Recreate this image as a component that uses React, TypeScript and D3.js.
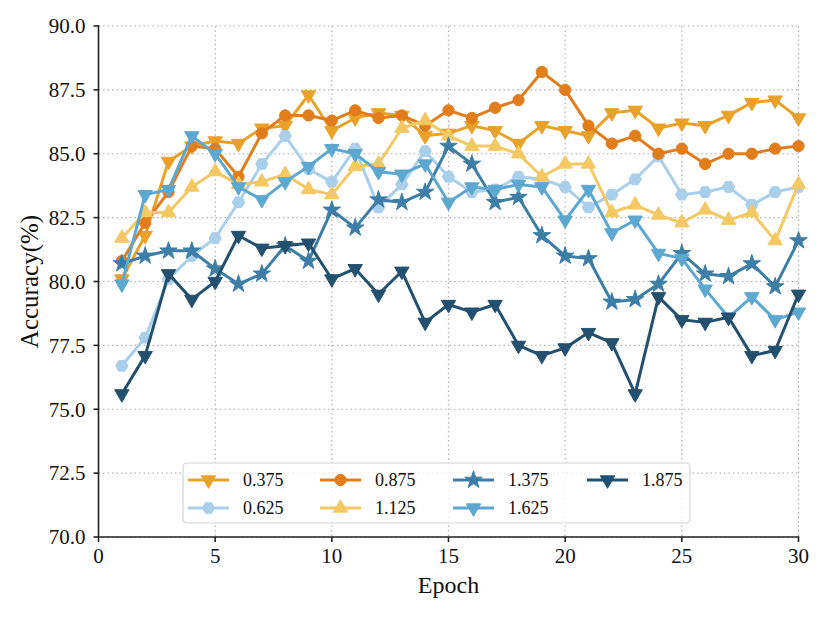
import React from 'react';
import * as d3 from 'd3';

// epochs on the x axis
const epochs = [1, 2, 3, 4, 5, 6, 7, 8, 9, 10, 11, 12, 13, 14, 15, 16, 17, 18, 19, 20, 21, 22, 23, 24, 25, 26, 27, 28, 29, 30];

const acc0375 = [80.1, 81.8, 84.7, 85.3, 85.5, 85.4, 86.0, 86.1, 87.3, 85.9, 86.4, 86.6, 86.5, 85.7, 85.8, 86.1, 85.9, 85.4, 86.1, 85.9, 85.7, 86.6, 86.7, 86.0, 86.2, 86.1, 86.5, 87.0, 87.1, 86.4];
const acc0625 = [76.7, 77.8, 80.1, 81.0, 81.7, 83.1, 84.6, 85.7, 84.4, 83.9, 85.2, 82.9, 83.8, 85.1, 84.1, 83.5, 83.6, 84.1, 84.0, 83.7, 82.9, 83.4, 84.0, 84.9, 83.4, 83.5, 83.7, 83.0, 83.5, 83.7];
const acc0875 = [80.8, 82.3, 83.5, 85.3, 85.2, 84.1, 85.8, 86.5, 86.5, 86.3, 86.7, 86.4, 86.5, 86.1, 86.7, 86.4, 86.8, 87.1, 88.2, 87.5, 86.1, 85.4, 85.7, 85.0, 85.2, 84.6, 85.0, 85.0, 85.2, 85.3];
const acc1125 = [81.7, 82.7, 82.7, 83.7, 84.3, 83.8, 83.9, 84.2, 83.6, 83.4, 84.5, 84.6, 86.0, 86.3, 85.7, 85.3, 85.3, 85.0, 84.1, 84.6, 84.6, 82.7, 83.0, 82.6, 82.3, 82.8, 82.4, 82.7, 81.6, 83.8];
const acc1375 = [80.7, 81.0, 81.2, 81.2, 80.5, 79.9, 80.3, 81.4, 80.8, 82.8, 82.1, 83.2, 83.1, 83.5, 85.3, 84.6, 83.1, 83.3, 81.8, 81.0, 80.9, 79.2, 79.3, 79.9, 81.1, 80.3, 80.2, 80.7, 79.8, 81.6];
const acc1625 = [79.9, 83.4, 83.6, 85.7, 85.0, 83.7, 83.2, 83.9, 84.5, 85.2, 85.0, 84.3, 84.2, 84.6, 83.1, 83.7, 83.6, 83.8, 83.7, 82.4, 83.6, 81.9, 82.4, 81.1, 80.9, 79.7, 78.6, 79.4, 78.5, 78.8];
const acc1875 = [75.6, 77.1, 80.3, 79.3, 80.0, 81.8, 81.3, 81.4, 81.5, 80.1, 80.5, 79.5, 80.4, 78.4, 79.1, 78.8, 79.1, 77.5, 77.1, 77.4, 78.0, 77.6, 75.6, 79.4, 78.5, 78.4, 78.6, 77.1, 77.3, 79.5];

const xTicks = [0, 5, 10, 15, 20, 25, 30];
const yTicks = [70, 72.5, 75, 77.5, 80, 82.5, 85, 87.5, 90];

type Marker = 'tri-down' | 'tri-up' | 'circle' | 'hexagon' | 'star';

const series: { label: string; values: number[]; color: string; marker: Marker }[] = [
  { label: '0.375', values: acc0375, color: '#E9A12A', marker: 'tri-down' },
  { label: '0.625', values: acc0625, color: '#A9CFEA', marker: 'hexagon' },
  { label: '0.875', values: acc0875, color: '#E27D1C', marker: 'circle' },
  { label: '1.125', values: acc1125, color: '#F4C862', marker: 'tri-up' },
  { label: '1.375', values: acc1375, color: '#3D7EA6', marker: 'star' },
  { label: '1.625', values: acc1625, color: '#5DA8D0', marker: 'tri-down' },
  { label: '1.875', values: acc1875, color: '#23506F', marker: 'tri-down' },
];

const W = 827;
const H = 617;
const margin = { left: 98.5, right: 28.5, top: 26, bottom: 80 };
const FONT = '"Liberation Serif", "Times New Roman", serif';

const hexagon: d3.SymbolType = {
  draw(ctx, size) {
    const r = Math.sqrt((2 * size) / (3 * Math.sqrt(3)));
    for (let i = 0; i < 6; i++) {
      const a = (Math.PI / 3) * i + Math.PI / 6;
      const px = r * Math.sin(a);
      const py = -r * Math.cos(a);
      if (i === 0) ctx.moveTo(px, py);
      else ctx.lineTo(px, py);
    }
    ctx.closePath();
  },
};

const markerPath = (m: Marker, scale = 1) => {
  switch (m) {
    case 'tri-down':
    case 'tri-up':
      return d3.symbol(d3.symbolTriangle, 90 * scale)() as string;
    case 'circle':
      return d3.symbol(d3.symbolCircle, 100 * scale)() as string;
    case 'hexagon':
      return d3.symbol(hexagon, 100 * scale)() as string;
    case 'star':
      return d3.symbol(d3.symbolStar, 95 * scale)() as string;
  }
};

const MarkerShape = ({ m, x, y, color, scale = 1 }: { m: Marker; x: number; y: number; color: string; scale?: number }) => (
  <path
    d={markerPath(m, scale)}
    transform={`translate(${x},${y})${m === 'tri-down' ? ' rotate(180)' : ''}`}
    fill={color}
    stroke={color}
    strokeWidth={1}
  />
);

const App = () => {
  const x = d3.scaleLinear().domain([0, 30]).range([margin.left, W - margin.right]);
  const y = d3.scaleLinear().domain([70, 90]).range([H - margin.bottom, margin.top]);
  const line = d3
    .line<number>()
    .x((_, i) => x(epochs[i]))
    .y((d) => y(d));

  const x0 = x(0);
  const y0 = y(70);

  // legend layout (4 columns, filled column-wise like matplotlib)
  const legendBox = { x: 183, y: 463, w: 507, h: 60 };
  const colX = [188, 320, 453, 587];
  const rowY = [480, 508];

  return (
    <svg
      width={W}
      height={H}
      style={{ position: 'absolute', left: 0, top: 0, background: '#fff' }}
      fontFamily={FONT}
    >
      {/* grid */}
      <g stroke="#b0b0b0" strokeWidth={1.2} strokeDasharray="1.5,3">
        {xTicks.map((t) => (
          <line key={'gx' + t} x1={x(t)} x2={x(t)} y1={y(90)} y2={y0} />
        ))}
        {yTicks.map((t) => (
          <line key={'gy' + t} x1={x0} x2={x(30)} y1={y(t)} y2={y(t)} />
        ))}
      </g>

      {/* series */}
      {series.map((s) => (
        <g key={s.label}>
          <path d={line(s.values) as string} fill="none" stroke={s.color} strokeWidth={3} strokeLinejoin="round" />
          {s.values.map((v, i) => (
            <MarkerShape key={i} m={s.marker} x={x(epochs[i])} y={y(v)} color={s.color} />
          ))}
        </g>
      ))}

      {/* axes */}
      <g stroke="#222" strokeWidth={1.6}>
        <line x1={x0} x2={x0} y1={y(90) - 0.8} y2={y0} />
        <line x1={x0} x2={x(30) + 0.8} y1={y0} y2={y0} />
        {yTicks.map((t) => (
          <line key={'ty' + t} x1={x0 - 5} x2={x0} y1={y(t)} y2={y(t)} />
        ))}
        {xTicks.map((t) => (
          <line key={'tx' + t} x1={x(t)} x2={x(t)} y1={y0} y2={y0 + 5} />
        ))}
      </g>
      <g fontSize={21} fill="#111">
        {yTicks.map((t) => (
          <text key={'ly' + t} x={x0 - 13} y={y(t)} dy="0.35em" textAnchor="end">
            {t.toFixed(1)}
          </text>
        ))}
        {xTicks.map((t) => (
          <text key={'lx' + t} x={x(t)} y={y0 + 26} textAnchor="middle">
            {t}
          </text>
        ))}
      </g>
      <text x={x(15)} y={593} textAnchor="middle" fontSize={24} fill="#111">
        Epoch
      </text>
      <text
        transform={`translate(38,${(y(90) + y0) / 2}) rotate(-90)`}
        textAnchor="middle"
        fontSize={25}
        fill="#111"
      >
        Accuracy(%)
      </text>

      {/* legend */}
      <rect
        x={legendBox.x}
        y={legendBox.y}
        width={legendBox.w}
        height={legendBox.h}
        rx={4}
        fill="#fff"
        fillOpacity={0.8}
        stroke="#d4d4d4"
        strokeWidth={1.2}
      />
      {series.map((s, i) => {
        const cx = colX[Math.floor(i / 2)];
        const cy = rowY[i % 2];
        return (
          <g key={'lg' + s.label}>
            <line x1={cx} x2={cx + 41} y1={cy} y2={cy} stroke={s.color} strokeWidth={3} />
            <MarkerShape m={s.marker} x={cx + 20.5} y={cy} color={s.color} />
            <text x={cx + 55} y={cy} dy="0.35em" fontSize={18} fill="#111">
              {s.label}
            </text>
          </g>
        );
      })}
    </svg>
  );
};

export default App;
